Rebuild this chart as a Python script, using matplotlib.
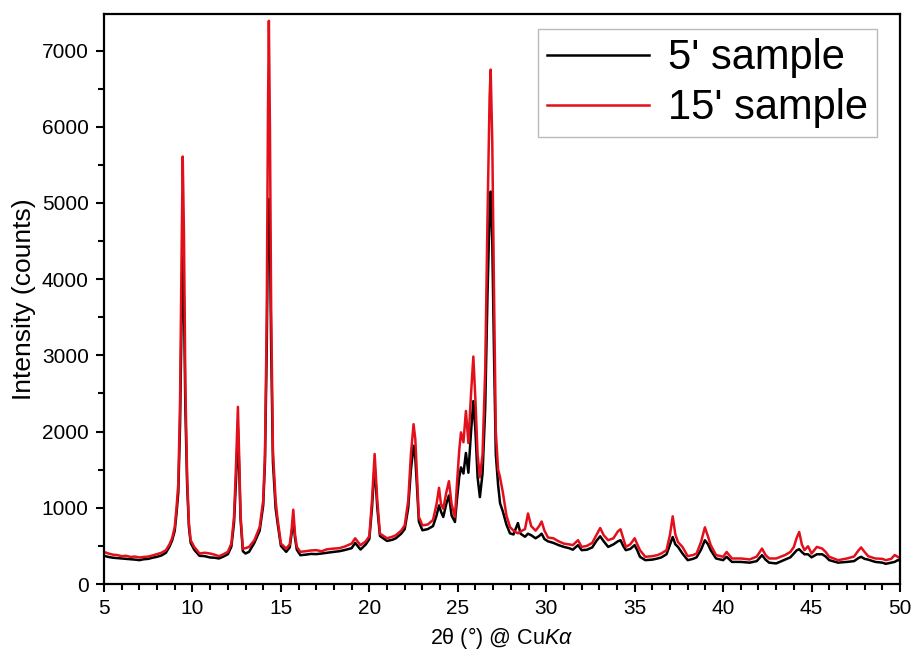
import matplotlib
matplotlib.use("Agg")
import matplotlib.pyplot as plt
import matplotlib.ticker as mticker

plt.rcParams["font.family"] = ["Liberation Sans", "DejaVu Sans"]
plt.rcParams["mathtext.fontset"] = "custom"
plt.rcParams["mathtext.rm"] = "Liberation Sans"
plt.rcParams["mathtext.it"] = "Liberation Sans:italic"

# 2theta positions (deg)
two_theta = [
    5.0, 5.25, 5.5, 5.75, 6.0, 6.25, 6.5, 6.75, 7.0, 7.25, 7.5, 7.75, 8.0, 8.25, 8.5, 8.7, 8.85,
    9.0, 9.1, 9.2, 9.3, 9.38, 9.45, 9.52, 9.6, 9.7, 9.8, 9.9, 10.1, 10.4, 10.7, 11.0, 11.25,
    11.5, 11.75, 12.0, 12.2, 12.35, 12.47, 12.57, 12.65, 12.72, 12.85, 13.0, 13.2, 13.5, 13.8,
    14.0, 14.1, 14.2, 14.27, 14.32, 14.38, 14.45, 14.55, 14.7, 14.8, 15.0, 15.3, 15.5, 15.6,
    15.7, 15.8, 15.9, 16.1, 16.4, 16.7, 17.0, 17.3, 17.6, 18.0, 18.3, 18.6, 19.0, 19.2, 19.5,
    19.8, 20.0, 20.15, 20.3, 20.45, 20.6, 21.0, 21.3, 21.5, 21.8, 22.0, 22.2, 22.35, 22.5, 22.6,
    22.7, 22.8, 23.0, 23.3, 23.6, 23.8, 23.94, 24.05, 24.18, 24.35, 24.5, 24.65, 24.84, 24.95,
    25.08, 25.18, 25.32, 25.46, 25.6, 25.75, 25.88, 26.0, 26.12, 26.25, 26.4, 26.55, 26.68,
    26.8, 26.86, 26.95, 27.05, 27.15, 27.28, 27.39, 27.55, 27.75, 27.95, 28.15, 28.4, 28.55,
    28.8, 28.97, 29.15, 29.4, 29.6, 29.74, 29.9, 30.1, 30.4, 30.7, 31.0, 31.3, 31.5, 31.8, 32.0,
    32.3, 32.6, 32.85, 33.05, 33.25, 33.5, 33.8, 34.05, 34.2, 34.35, 34.5, 34.75, 35.0, 35.15,
    35.3, 35.6, 36.0, 36.3, 36.5, 36.8, 37.0, 37.15, 37.3, 37.45, 37.7, 38.0, 38.3, 38.5, 38.75,
    38.97, 39.15, 39.3, 39.6, 40.0, 40.2, 40.5, 41.0, 41.5, 41.9, 42.2, 42.4, 42.6, 43.0, 43.5,
    43.8, 44.0, 44.15, 44.3, 44.45, 44.6, 44.8, 45.0, 45.3, 45.6, 45.8, 46.0, 46.5, 47.0, 47.4,
    47.65, 47.8, 48.0, 48.2, 48.6, 49.0, 49.2, 49.5, 49.7, 49.85, 50.0,
]

# 15' sample (red)
counts_15 = [
    420, 400, 385, 380, 365, 370, 355, 360, 348, 355, 360, 375, 392, 410, 444, 520, 600,
    748, 1000, 1314, 2400, 4200, 5610, 4600, 2600, 1400, 800, 574, 487, 400, 410, 400, 385,
    365, 390, 422, 530, 880, 1600, 2325, 1600, 900, 465, 470, 487, 574, 748,
    1096, 1700, 3500, 6200, 7390, 6000, 3600, 1750, 1100, 880, 530, 465, 520, 700,
    975, 650, 487, 422, 430, 440, 444, 430, 455, 465, 470, 490, 531, 600, 509,
    560, 627, 1096, 1706, 1096, 661, 600, 620, 640, 700, 770, 1096, 1700, 2097, 1900,
    1400, 880, 770, 780, 840, 1050, 1262, 1050, 988, 1200, 1349, 1050, 879, 1300,
    1750, 1990, 1860, 2271, 1850, 2500, 2985, 2400, 1700, 1400, 1700, 2800, 4800,
    6400, 6750, 5800, 3800, 2000, 1500, 1400, 1200, 900, 748, 700, 665, 690,
    720, 925, 760, 700, 760, 820, 700, 610, 600, 560, 530, 520, 510, 575, 487,
    500, 540, 650, 735, 640, 575, 600, 690, 718, 600, 487, 520, 600, 520,
    444, 357, 365, 380, 400, 444, 650, 888, 650, 550, 487, 365, 380, 400, 550,
    744, 620, 510, 380, 357, 420, 335, 335, 322, 360, 465, 380, 335, 335, 380,
    420, 487, 600, 683, 520, 444, 495, 400, 487, 465, 420, 357, 313, 335, 360,
    440, 480, 420, 365, 335, 330, 313, 330, 380, 360, 335,
]

# 5' sample (black)
counts_5 = [
    370, 355, 345, 340, 335, 330, 325, 320, 313, 325, 330, 345, 357, 375, 410, 490, 570,
    700, 930, 1200, 2100, 3400, 4300, 3700, 2300, 1300, 750, 540, 450, 370, 365, 348, 345,
    335, 360, 390, 490, 800, 1400, 2050, 1450, 850, 430, 400, 422, 540, 700,
    1030, 1600, 3100, 4700, 5050, 4600, 3100, 1600, 1000, 820, 500, 422, 480, 650,
    850, 600, 450, 378, 385, 395, 392, 400, 410, 422, 430, 445, 470, 540, 452,
    520, 590, 1000, 1560, 1000, 630, 565, 580, 600, 660, 720, 1000, 1500, 1814, 1650,
    1250, 820, 705, 720, 760, 900, 1031, 950, 879, 1050, 1162, 900, 814, 1100,
    1400, 1530, 1450, 1720, 1460, 2000, 2400, 2000, 1400, 1140, 1450, 2300, 3800,
    4900, 5150, 4500, 3000, 1700, 1300, 1060, 950, 780, 665, 650, 800, 660,
    620, 660, 640, 600, 630, 660, 590, 560, 540, 510, 487, 470, 450, 510, 444,
    450, 480, 570, 626, 560, 487, 520, 560, 575, 500, 444, 460, 510, 440,
    357, 313, 320, 335, 348, 390, 520, 617, 520, 487, 400, 313, 330, 350, 450,
    574, 520, 444, 335, 313, 357, 290, 290, 280, 300, 378, 320, 280, 270, 320,
    350, 400, 440, 457, 420, 390, 390, 350, 390, 390, 360, 313, 280, 290, 300,
    340, 357, 330, 320, 290, 280, 265, 280, 290, 310, 313,
]

fig = plt.figure(figsize=(9.15, 6.51), dpi=100)
ax = fig.add_axes([104 / 915, 67 / 651, 796 / 915, 570 / 651])

ax.plot(two_theta, counts_5, color="black", linewidth=1.8, label="5' sample")
ax.plot(two_theta, counts_15, color="#e3101b", linewidth=1.8, label="15' sample")

ax.set_xlim(5, 50)
ax.set_ylim(0, 7480)
ax.xaxis.set_major_locator(mticker.MultipleLocator(5))
ax.xaxis.set_minor_locator(mticker.MultipleLocator(1))
ax.yaxis.set_major_locator(mticker.MultipleLocator(1000))
ax.yaxis.set_minor_locator(mticker.MultipleLocator(500))
ax.tick_params(which="both", direction="out", top=False, right=False, width=1.5, labelsize=15)
ax.tick_params(which="major", length=6, pad=5)
ax.tick_params(which="minor", length=4)
for sp in ax.spines.values():
    sp.set_linewidth(1.6)

ax.set_xlabel("2θ (°) @ Cu$K\\alpha$", fontsize=15.5, labelpad=5)
ax.set_ylabel("Intensity (counts)", fontsize=19, labelpad=4)

leg = ax.legend(
    loc="upper right",
    bbox_to_anchor=(877 / 915, 622 / 651),
    bbox_transform=fig.transFigure,
    borderaxespad=0,
    fontsize=30,
    handlelength=2.45,
    handletextpad=0.45,
    labelspacing=0.24,
    borderpad=0.22,
    fancybox=False,
    frameon=True,
)
leg.get_frame().set_edgecolor("#aaaaaa")
leg.get_frame().set_linewidth(1.0)
for line in leg.get_lines():
    line.set_linewidth(1.8)

fig.savefig("out.png", dpi=100)
